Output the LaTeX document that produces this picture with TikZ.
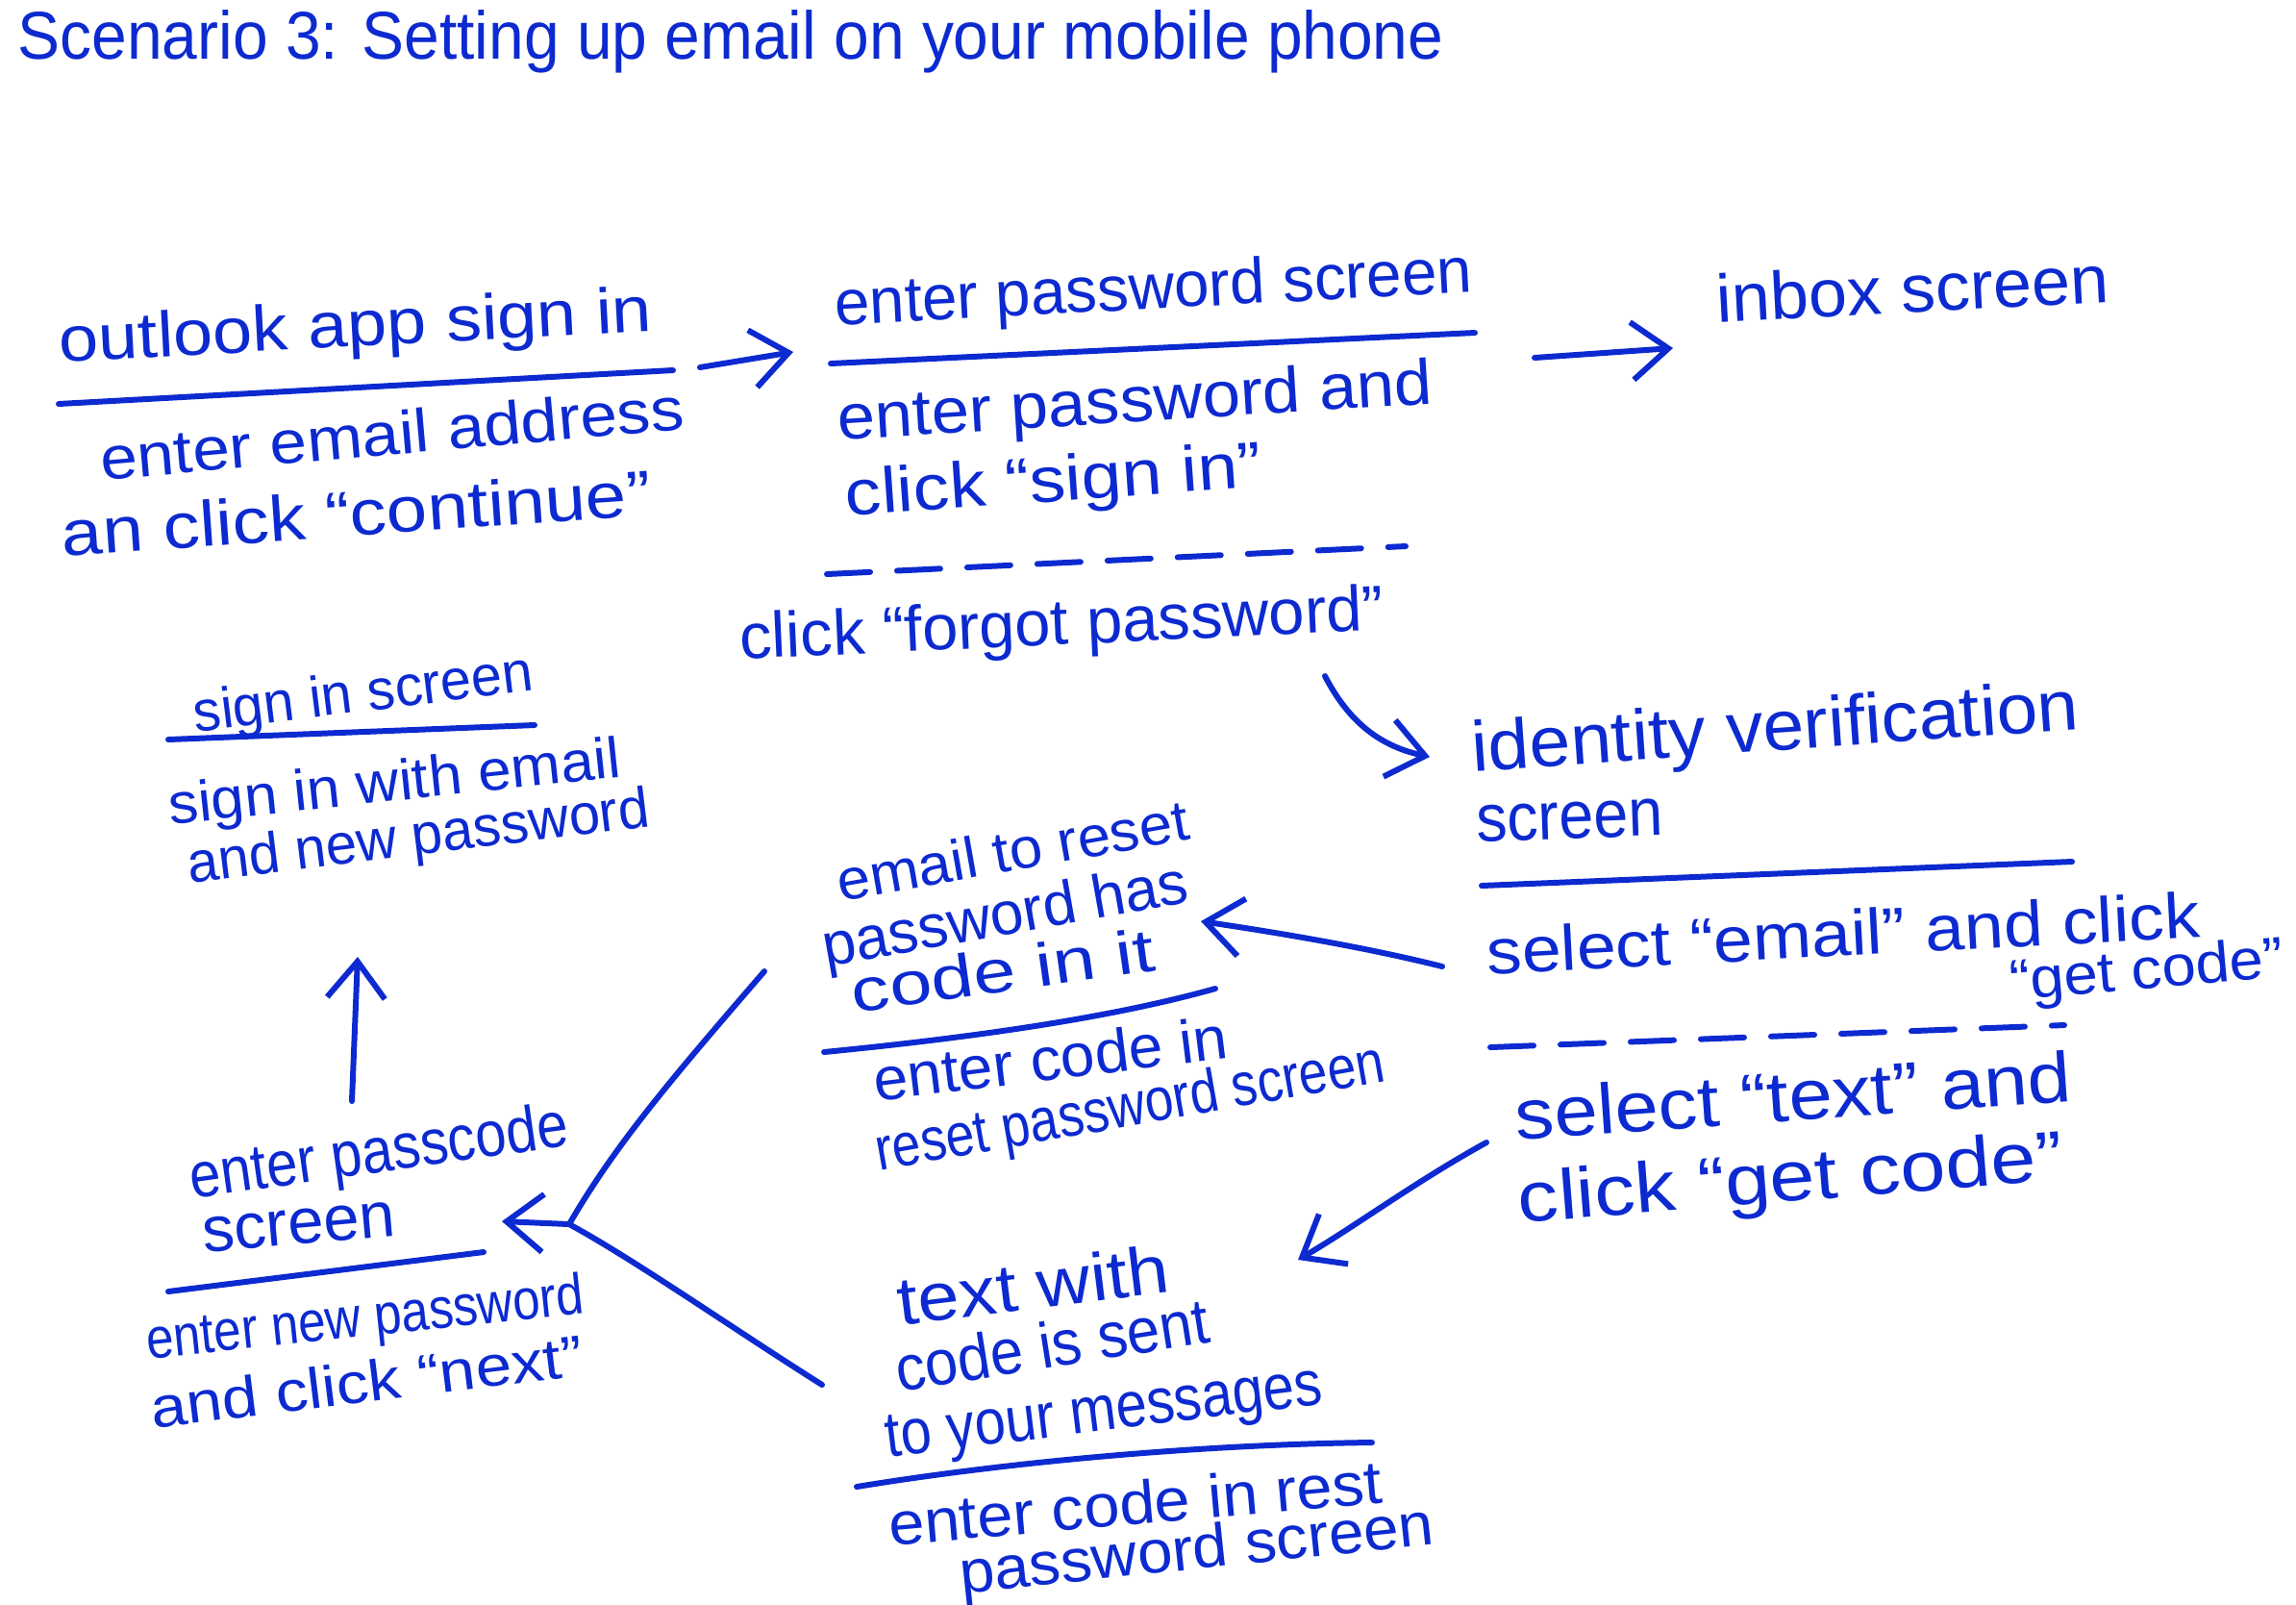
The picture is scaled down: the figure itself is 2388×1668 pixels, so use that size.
\documentclass[tikz,border=0pt]{standalone}
\usepackage{fontspec}
\setmainfont{Liberation Sans}
\usetikzlibrary{arrows.meta}
\definecolor{ink}{RGB}{12,42,208}
\newcommand{\hw}[3][19]{\resizebox{#2cm}{\height}{\fontsize{#1}{22}\selectfont\strut #3}}
\begin{document}
\begin{tikzpicture}[x=0.01cm,y=-0.01cm,
  txt/.style={anchor=west,inner sep=0pt,text=ink},
  ln/.style={draw=ink,line width=1.7pt,line cap=round,line join=round},
  dsh/.style={ln,dash pattern=on 0.45cm off 0.28cm},
  arr/.style={ln,-{Straight Barb[length=3.8mm,width=6mm]}}]
\useasboundingbox[fill=white] (0,0) rectangle (2388,1668);

% title
\node[txt] (title) at (18,46) {\hw[20]{14.82}{Scenario 3: Setting up email on your mobile phone}};

% outlook app sign in
\node[txt,rotate=3] (o1) at (61,361) {\hw{6.17}{outlook app sign in}};
\node[txt,rotate=5] (o2) at (104,484) {\hw[18]{6.09}{enter email address}};
\node[txt,rotate=4] (o3) at (64,563) {\hw{6.14}{an click “continue”}};
\draw[ln] (61,420) -- (700,385);

% enter password screen
\node[txt,rotate=3] (p1) at (868,323) {\hw{6.63}{enter password screen}};
\node[txt,rotate=3.5] (p2) at (871,442) {\hw{6.19}{enter password and}};
\node[txt,rotate=4] (p3) at (879,521) {\hw{4.34}{click “sign in”}};
\draw[ln] (864,378) -- (1534,346);
\draw[dsh] (860,597) -- (1462,568);
\node[txt,rotate=2.6] (p4) at (769,670) {\hw{6.70}{click “forgot password”}};

% inbox
\node[txt,rotate=3] (ib) at (1785,320) {\hw[20]{4.08}{inbox screen}};

% identity verification
\node[txt,rotate=4] (i1) at (1531,787) {\hw[21]{6.32}{identity verification}};
\node[txt,rotate=2] (i2) at (1535,860) {\hw[20]{1.94}{screen}};
\draw[ln] (1541,921) -- (2155,896);
\node[txt,rotate=3] (i3) at (1546,998) {\hw{7.42}{select “email” and click}};
\node[txt,rotate=5] (i4) at (2090,1025) {\hw[17]{2.86}{“get code”}};
\draw[dsh] (1550,1089) -- (2147,1066);
\node[txt,rotate=4] (i5) at (1576,1170) {\hw[21]{5.79}{select “text” and}};
\node[txt,rotate=4.5] (i6) at (1579,1256) {\hw[21]{5.68}{click “get code”}};

% email to reset
\node[txt,rotate=10] (e1) at (871,922) {\hw[17]{3.70}{email to reset}};
\node[txt,rotate=10] (e2) at (856,990) {\hw[18]{3.85}{password has}};
\node[txt,rotate=8] (e3) at (886,1038) {\hw[18]{3.17}{code in it}};
\draw[ln] (857,1094) .. controls (1000,1080) and (1150,1060) .. (1264,1028);
\node[txt,rotate=7] (e4) at (909,1130) {\hw[18]{3.70}{enter code in}};
\node[txt,rotate=10] (e5) at (911,1202) {\hw[18]{5.36}{reset password screen}};

% text with code
\node[txt,rotate=7] (t1) at (934,1363) {\hw[20]{2.84}{text with}};
\node[txt,rotate=9] (t2) at (932,1432) {\hw{3.29}{code is sent}};
\node[txt,rotate=7] (t3) at (921,1500) {\hw{4.57}{to your messages}};
\draw[ln] (891,1546) .. controls (1050,1520) and (1250,1502) .. (1427,1500);
\node[txt,rotate=5] (t4) at (924,1592) {\hw[18]{5.15}{enter code in rest}};
\node[txt,rotate=6] (t5) at (998,1642) {\hw[18]{4.95}{password screen}};

% enter passcode
\node[txt,rotate=8] (n1) at (198,1231) {\hw{3.96}{enter passcode}};
\node[txt,rotate=5] (n2) at (210,1287) {\hw{2.01}{screen}};
\draw[ln] (175,1343) -- (503,1302);
\node[txt,rotate=6] (n3) at (152,1398) {\hw[17]{4.57}{enter new password}};
\node[txt,rotate=7] (n4) at (157,1470) {\hw[17]{4.52}{and click “next”}};

% sign in screen
\node[txt,rotate=7] (s1) at (201,746) {\hw[17]{3.55}{sign in screen}};
\draw[ln] (175,769) -- (556,754);
\node[txt,rotate=6] (s2) at (175,842) {\hw[17]{4.72}{sign in with email}};
\node[txt,rotate=7] (s3) at (195,903) {\hw[17]{4.83}{and new password}};

% connector end points
\coordinate (c1a) at (728,382);  \coordinate (c1b) at (825,366);
\coordinate (c2a) at (1596,372); \coordinate (c2b) at (1740,362);
\coordinate (c3a) at (1378,703); \coordinate (c3b) at (1487,787);
\coordinate (c4a) at (1500,1005); \coordinate (c4b) at (1249,958);
\coordinate (c5a) at (1546,1188); \coordinate (c5b) at (1350,1310);
\coordinate (j1) at (795,1010); \coordinate (j2) at (855,1440);
\coordinate (jn) at (592,1273);  \coordinate (jt) at (522,1270);
\coordinate (u1) at (366,1145);  \coordinate (u2) at (372,995);

\draw[arr] (c1a) -- (c1b);
\draw[arr] (c2a) -- (c2b);
\draw[arr] (c3a) .. controls (1400,745) and (1430,775) .. (c3b);
\draw[arr] (c4a) .. controls (1420,985) and (1330,970) .. (c4b);
\draw[arr] (c5a) .. controls (1470,1230) and (1410,1275) .. (c5b);
\draw[ln] (j1) .. controls (700,1120) and (640,1190) .. (jn);
\draw[ln] (j2) .. controls (760,1380) and (660,1310) .. (jn);
\draw[arr] (jn) -- (jt);
\draw[arr] (u1) -- (u2);
\end{tikzpicture}
\end{document}
